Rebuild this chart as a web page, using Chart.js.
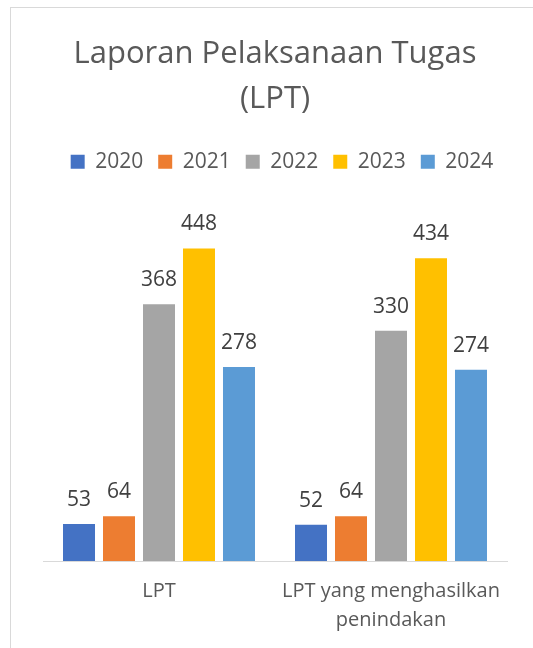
<!DOCTYPE html>
<html>
<head>
    <meta charset="utf-8">
    <script src="https://cdn.jsdelivr.net/npm/chart.js@4"></script>
    <style>
        html, body {
            margin: 0;
            padding: 0;
            background: #ffffff;
        }

        .chart-wrap {
            position: relative;
            width: 533px;
            height: 648px;
        }

        .frame {
            position: absolute;
            left: 10px;
            top: 7px;
            right: 0;
            bottom: 0;
            border-left: 1px solid #d9d9d9;
            border-top: 1px solid #d9d9d9;
            pointer-events: none;
        }
    </style>
</head>
<body>
    <div class="chart-wrap">
        <canvas id="lptChart" width="533" height="648"></canvas>
        <div class="frame"></div>
    </div>

    <script>
        // Data
        const categories = [['LPT'], ['LPT yang menghasilkan', 'penindakan']];
        const years = ['2020', '2021', '2022', '2023', '2024'];
        const values2020 = [53, 52];
        const values2021 = [64, 64];
        const values2022 = [368, 330];
        const values2023 = [448, 434];
        const values2024 = [278, 274];
        const seriesColors = ['#4472C4', '#ED7D31', '#A5A5A5', '#FFC000', '#5B9BD5'];

        const seriesValues = [values2020, values2021, values2022, values2023, values2024];
        const fontFamily = "'Open Sans', 'Noto Sans', sans-serif";

        // Draws the value above each bar
        const valueLabels = {
            id: 'valueLabels',
            afterDatasetsDraw(chart) {
                const ctx = chart.ctx;
                ctx.save();
                ctx.font = '21px ' + fontFamily;
                ctx.fillStyle = '#404040';
                ctx.textAlign = 'center';
                ctx.textBaseline = 'alphabetic';
                chart.data.datasets.forEach((ds, i) => {
                    chart.getDatasetMeta(i).data.forEach((bar, j) => {
                        ctx.fillText(ds.data[j], bar.x, bar.y - 18);
                    });
                });
                ctx.restore();
            }
        };

        // Extra space below the legend, and nudge it a bit to the right
        const legendTweak = {
            id: 'legendTweak',
            beforeInit(chart) {
                const fit = chart.legend.fit;
                chart.legend.fit = function () {
                    fit.bind(chart.legend)();
                    this.height += 30;
                };
            },
            afterLayout(chart) {
                chart.legend.left += 7;
                chart.legend.right += 7;
            }
        };

        const ctx = document.getElementById('lptChart').getContext('2d');
        const chart = new Chart(ctx, {
            type: 'bar',
            data: {
                labels: categories,
                datasets: years.map((y, i) => ({
                    label: y,
                    data: seriesValues[i],
                    backgroundColor: seriesColors[i],
                    borderWidth: 0,
                    barPercentage: 0.8,
                    categoryPercentage: 0.862
                }))
            },
            options: {
                responsive: false,
                animation: false,
                layout: {
                    padding: { left: 43, right: 26, top: 0, bottom: -3 }
                },
                plugins: {
                    title: {
                        display: true,
                        text: ['Laporan Pelaksanaan Tugas', '(LPT)'],
                        color: '#595959',
                        font: { family: fontFamily, size: 31, weight: 'normal', lineHeight: 1.47 },
                        padding: { top: 31, bottom: 14 }
                    },
                    legend: {
                        position: 'top',
                        labels: {
                            color: '#595959',
                            font: { family: fontFamily, size: 21 },
                            boxWidth: 14,
                            boxHeight: 14,
                            padding: 15
                        }
                    },
                    tooltip: { enabled: false }
                },
                scales: {
                    x: {
                        grid: { display: false, drawTicks: false },
                        border: { color: '#d9d9d9', width: 1 },
                        ticks: {
                            color: '#595959',
                            font: { family: fontFamily, size: 20, lineHeight: 1.45 },
                            padding: 16,
                            maxRotation: 0
                        }
                    },
                    y: {
                        display: false,
                        min: 0,
                        max: 500
                    }
                }
            },
            plugins: [valueLabels, legendTweak]
        });
    </script>
</body>
</html>
